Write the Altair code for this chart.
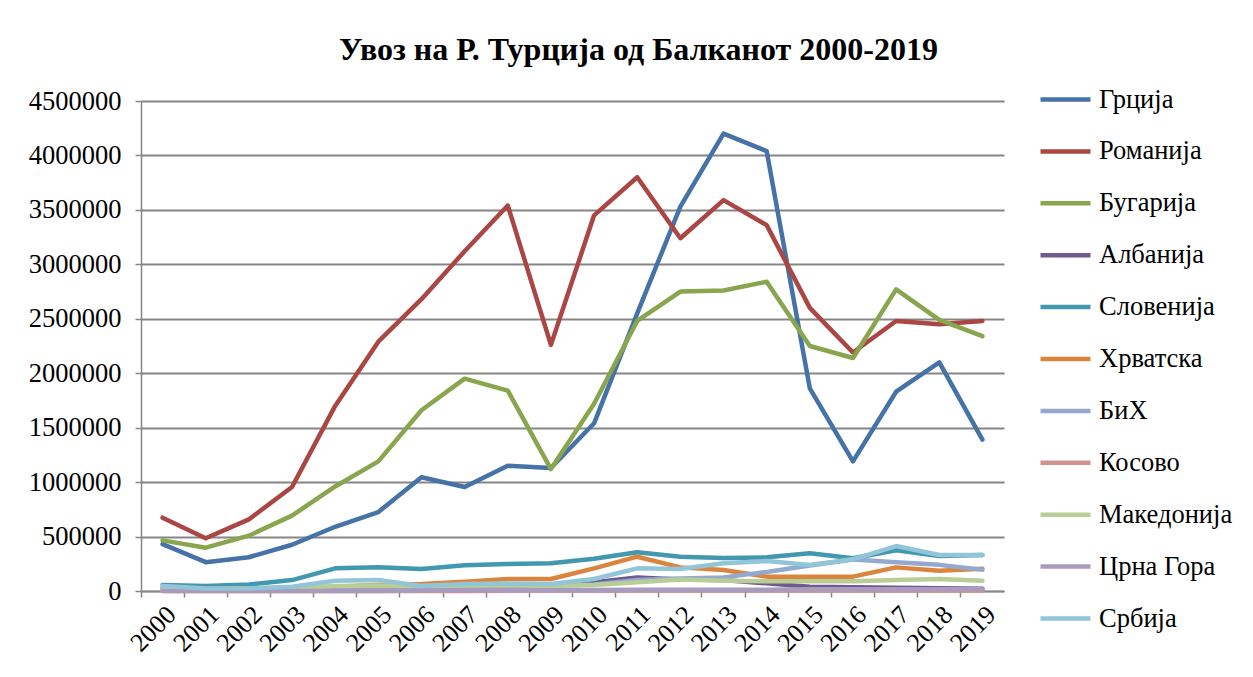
import altair as alt
import pandas as pd

years = ["2000", "2001", "2002", "2003", "2004", "2005", "2006", "2007", "2008", "2009",
         "2010", "2011", "2012", "2013", "2014", "2015", "2016", "2017", "2018", "2019"]

greece = [430000, 265000, 310000, 425000, 590000, 725000, 1045000, 955000, 1150000, 1130000,
          1540000, 2550000, 3530000, 4200000, 4040000, 1860000, 1190000, 1830000, 2100000, 1390000]
romania = [673000, 484000, 658000, 955000, 1700000, 2290000, 2680000, 3120000, 3540000, 2260000,
           3450000, 3800000, 3240000, 3590000, 3360000, 2600000, 2190000, 2480000, 2450000, 2480000]
bulgaria = [465000, 398000, 508000, 692000, 960000, 1190000, 1660000, 1950000, 1840000, 1120000,
            1720000, 2480000, 2750000, 2760000, 2840000, 2250000, 2140000, 2770000, 2490000, 2340000]
albania = [15000, 10000, 12000, 15000, 20000, 25000, 30000, 40000, 50000, 45000,
           80000, 125000, 105000, 100000, 70000, 40000, 35000, 30000, 25000, 20000]
slovenia = [55000, 45000, 60000, 100000, 208000, 217000, 202000, 236000, 248000, 254000,
            297000, 355000, 315000, 303000, 309000, 346000, 300000, 375000, 321000, 330000]
croatia = [30000, 20000, 25000, 30000, 40000, 55000, 65000, 85000, 110000, 110000,
           208000, 315000, 217000, 193000, 132000, 132000, 132000, 217000, 187000, 205000]
bih = [15000, 10000, 12000, 15000, 25000, 30000, 35000, 45000, 50000, 50000,
       60000, 100000, 115000, 125000, 175000, 235000, 290000, 265000, 240000, 195000]
kosovo = [0, 0, 0, 0, 0, 0, 0, 0, 2000, 3000,
          3000, 4000, 4000, 4000, 5000, 5000, 5000, 5000, 5000, 5000]
macedonia = [10000, 15000, 20000, 25000, 45000, 50000, 45000, 50000, 50000, 45000,
             55000, 80000, 105000, 95000, 90000, 90000, 90000, 100000, 110000, 95000]
montenegro = [0, 0, 0, 0, 0, 0, 5000, 8000, 10000, 8000,
              10000, 12000, 12000, 12000, 12000, 15000, 15000, 15000, 15000, 15000]
serbia = [46000, 24000, 24000, 40000, 95000, 101000, 46000, 64000, 70000, 64000,
          110000, 208000, 202000, 254000, 275000, 239000, 291000, 413000, 330000, 330000]

countries = ["Грција", "Романија", "Бугарија", "Албанија", "Словенија", "Хрватска",
             "БиХ", "Косово", "Македонија", "Црна Гора", "Србија"]
series = [greece, romania, bulgaria, albania, slovenia, croatia,
          bih, kosovo, macedonia, montenegro, serbia]
colors = ["#4572A7", "#AA4643", "#89A54E", "#71588F", "#4198AF", "#DB843D",
          "#93A9CF", "#D19392", "#B9CD96", "#A99BBD", "#92C5D8"]

rows = []
for ci, (c, vals) in enumerate(zip(countries, series)):
    for y, v in zip(years, vals):
        rows.append({"Година": y, "Земја": c, "Вредност": v, "ord": ci})
df = pd.DataFrame(rows)

FONT = "Liberation Serif"

chart = alt.Chart(df).mark_line(strokeWidth=4.5, strokeJoin="round", strokeCap="round").encode(
    x=alt.X("Година:O", sort=years, bandPosition=0.5,
            scale=alt.Scale(type="band", paddingInner=0, paddingOuter=0),
            axis=alt.Axis(title=None, labelAngle=-45, bandPosition=0,
                          labelFont=FONT, labelFontSize=26, labelColor="black",
                          domainColor="#868686", domainWidth=1.5, tickColor="#868686",
                          tickWidth=1.5, tickSize=6, labelPadding=4)),
    y=alt.Y("Вредност:Q",
            scale=alt.Scale(domain=[0, 4500000], nice=False),
            axis=alt.Axis(title=None, values=list(range(0, 4500001, 500000)), format="d",
                          labelFont=FONT, labelFontSize=26.5, labelColor="black",
                          domainColor="#868686", domainWidth=1.5, tickColor="#868686",
                          tickWidth=1.5, tickSize=6, labelPadding=14,
                          gridColor="#868686", gridWidth=2, minExtent=112, maxExtent=112)),
    color=alt.Color("Земја:N", sort=countries,
                    scale=alt.Scale(domain=countries, range=colors),
                    legend=alt.Legend(title=None, orient="none", legendX=897, legendY=-29,
                                      symbolType="stroke", symbolSize=2500, symbolStrokeWidth=4.5,
                                      labelFont=FONT, labelFontSize=26.5, labelColor="black",
                                      labelOffset=6, rowPadding=10.9)),
    detail="Земја:N",
    order=alt.Order("Година:O"),
).properties(
    width=863,
    height=490,
    title=alt.TitleParams("Увоз на Р. Турција од Балканот 2000-2019", font=FONT, fontSize=32,
                          fontWeight="bold", color="black", anchor="middle", dx=66, offset=5),
    padding={"left": 20, "top": 26, "right": 5, "bottom": 5},
).configure(font=FONT).configure_view(stroke=None).configure_axisX(grid=False)

chart.save("out.html", embed_options={"renderer": "svg", "actions": False})
